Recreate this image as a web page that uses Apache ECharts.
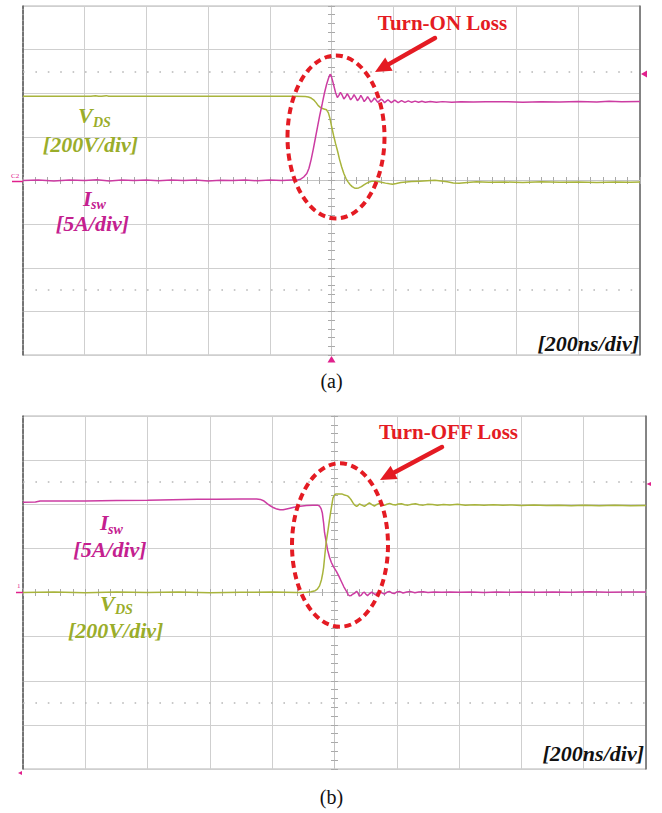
<!DOCTYPE html>
<html>
<head>
<meta charset="utf-8">
<script src="https://cdn.jsdelivr.net/npm/echarts@6/dist/echarts.min.js"></script>
<style>
  html, body { margin: 0; padding: 0; background: #ffffff; }
  #chart { width: 662px; height: 813px; }
</style>
</head>
<body>
<div id="chart"></div>
<script>
// Oscilloscope settings: 10 x 8 divisions
const nsPerDiv = 200;
const voltsPerDiv = 200;
const ampsPerDiv = 5;
const divX = 10;
const divY = 8;

// (a) Turn-on transient: [time ns, value]
const vdsTurnOn = [
  [-1000, 386], [-780, 386], [-765, 389], [-755, 386], [-745, 386], [-730, 389], [-722, 386],
  [-712, 386], [-500, 386], [-300, 386], [-120, 386], [-85, 385], [-75, 383], [-66, 378],
  [-58, 370], [-50, 357], [-43, 343], [-36, 335], [-29, 330], [-22, 327], [-16, 324],
  [-10, 310], [-5, 285], [0, 250], [7, 205], [13, 170], [20, 133], [26, 97], [33, 62],
  [40, 32], [47, 9], [53, -5], [60, -18], [67, -28], [74, -34], [80, -36], [88, -34],
  [97, -28], [105, -20], [113, -13], [122, -7], [130, -4], [140, -3], [150, -4], [162, -8],
  [175, -12], [188, -15], [198, -17], [210, -14], [225, -9], [242, -7], [260, -5], [285, -3],
  [310, -1], [335, 1], [355, -2], [375, -6], [395, -11], [414, -13], [440, -9], [470, -6],
  [510, -8], [560, -7], [620, -9], [680, -6], [740, -8], [800, -7], [860, -9], [920, -7],
  [970, -8], [1000, -7]
];
const iswTurnOn = [
  [-1000, 0], [-950, 0.05], [-900, -0.05], [-850, 0.05], [-800, 0], [-760, 0.08], [-720, -0.05],
  [-680, 0.05], [-640, 0], [-600, 0.06], [-560, -0.04], [-520, 0.05], [-480, 0], [-440, 0.06],
  [-400, -0.05], [-360, 0.04], [-320, 0], [-280, 0.06], [-240, -0.04], [-200, 0.05], [-160, 0],
  [-130, 0.05], [-110, 0.05], [-100, 0.15], [-90, 0.4], [-80, 0.8], [-73, 1.4], [-66, 2.4],
  [-59, 3.6], [-52, 4.9], [-45, 6.2], [-38, 7.5], [-30, 8.8], [-23, 10.0], [-16, 11.0],
  [-10, 11.7], [-5, 12.15], [-2, 12.1], [3, 11.5], [8, 10.8], [13, 10.1], [19, 9.5],
  [24, 9.75], [29, 10.1], [35, 9.75], [40, 9.35], [46, 9.6], [51, 9.95], [57, 9.6], [62, 9.25],
  [68, 9.5], [73, 9.85], [79, 9.5], [84, 9.15], [90, 9.4], [95, 9.75], [101, 9.4], [106, 9.05],
  [112, 9.3], [117, 9.6], [123, 9.3], [128, 8.98], [134, 9.2], [139, 9.45], [145, 9.2],
  [150, 8.95], [156, 9.15], [161, 9.35], [167, 9.15], [172, 8.92], [183, 9.25], [194, 8.92],
  [205, 9.2], [216, 8.93], [227, 9.15], [238, 8.95], [249, 9.12], [260, 8.96], [271, 9.1],
  [282, 8.97], [293, 9.08], [304, 8.98], [320, 9.06], [340, 8.98], [360, 9.04], [390, 8.98],
  [420, 9.03], [460, 8.99], [500, 9.02], [560, 9.04], [620, 8.98], [680, 9.04], [740, 9.0],
  [800, 9.06], [860, 9.0], [900, 9.08], [940, 9.02], [1000, 9.06]
];

// (b) Turn-off transient: [time ns, value]
const iswTurnOff = [
  [-1000, 10.23], [-960, 10.25], [-945, 10.37], [-800, 10.38], [-700, 10.42], [-600, 10.45],
  [-520, 10.5], [-440, 10.56], [-380, 10.58], [-300, 10.6], [-250, 10.6], [-238, 10.55],
  [-228, 10.4], [-215, 10.05], [-205, 9.8], [-195, 9.6], [-185, 9.45], [-175, 9.37],
  [-165, 9.38], [-150, 9.5], [-130, 9.65], [-110, 9.78], [-90, 9.85], [-70, 9.9], [-55, 9.9],
  [-48, 9.8], [-43, 9.5], [-39, 9.0], [-35, 7.9], [-32, 6.8], [-27, 5.8], [-22, 4.8],
  [-16, 4.0], [-10, 3.4], [-3, 2.9], [6, 2.4], [14, 1.85], [22, 1.25], [30, 0.65], [39, 0.1],
  [44, -0.25], [48, -0.37], [53, -0.35], [58, -0.2], [64, -0.1], [71, 0.15], [76, -0.1],
  [80, -0.42], [86, -0.3], [91, -0.05], [96, 0.05], [101, -0.2], [106, -0.35], [112, -0.15],
  [119, 0.05], [125, -0.1], [131, -0.25], [138, -0.05], [145, 0.1], [152, -0.05], [160, -0.18],
  [168, 0.02], [176, 0.12], [184, -0.05], [192, -0.12], [200, 0.06], [210, 0.1], [220, -0.05],
  [232, 0.05], [245, 0.1], [258, -0.02], [270, 0.06], [285, 0.08], [300, 0.0], [320, 0.06],
  [345, 0.02], [370, 0.07], [400, 0.02], [440, 0.06], [480, 0.0], [520, 0.05], [560, 0.02],
  [600, 0.07], [650, 0.02], [700, 0.06], [760, 0.03], [820, 0.08], [880, 0.03], [940, 0.07],
  [1000, 0.05]
];
const vdsTurnOff = [
  [-1000, 0], [-900, 2], [-800, -1], [-700, 2], [-600, 0], [-500, 2], [-400, -1], [-300, 1],
  [-200, 2], [-120, 0], [-90, 1], [-75, 3], [-62, 8], [-55, 15], [-48, 30], [-42, 57],
  [-38, 85], [-35, 113], [-31, 170], [-27, 225], [-21, 280], [-16, 330], [-10, 385], [-5, 428],
  [0, 442], [5, 447], [16, 447], [25, 446], [32, 442], [42, 438], [48, 430], [54, 419],
  [60, 405], [64, 397], [71, 390], [76, 395], [80, 401], [88, 396], [96, 390], [104, 398],
  [112, 406], [120, 398], [128, 392], [136, 399], [144, 404], [152, 399], [160, 395],
  [168, 400], [177, 404], [186, 399], [196, 397], [205, 401], [215, 402], [225, 398],
  [236, 396], [248, 400], [260, 402], [272, 398], [285, 396], [300, 400], [315, 399],
  [330, 396], [350, 399], [370, 397], [395, 400], [420, 396], [450, 398], [480, 395],
  [510, 398], [540, 395], [570, 397], [600, 394], [640, 397], [680, 394], [720, 396],
  [760, 393], [800, 396], [850, 393], [900, 395], [950, 393], [1000, 394]
];

// Graticule dotted rows sit 2.5 divisions above / below centre
const dottedRowDiv = 2.5;

const SERIF = 'Liberation Serif';
const OLIVE_LINE = '#a8b43c';
const OLIVE_TEXT = '#9aad2a';
const MAGENTA_LINE = '#cc3ca2';
const MAGENTA_TEXT = '#c4208f';
const RED = '#e41b23';
const GRID_LINE = '#cfcfcf';

const panels = [
  { left: 23, top: 6, width: 617, height: 349 },
  { left: 23, top: 416, width: 623, height: 353 }
];

const tMax = nsPerDiv * divX / 2;
const vMax = voltsPerDiv * divY / 2;
const iMax = ampsPerDiv * divY / 2;

const xAxes = [];
const yAxes = [];
const hidden = { axisLabel: { show: false }, axisTick: { show: false } };

panels.forEach((p, gi) => {
  const xMain = xAxes.length;
  const yMain = yAxes.length;
  // main time axis: vertical graticule lines
  xAxes.push(Object.assign({
    type: 'value', gridIndex: gi, min: -tMax, max: tMax, interval: nsPerDiv,
    axisLine: { show: false, onZero: false },
    splitLine: { show: true, lineStyle: { color: GRID_LINE, width: 1 } }
  }, hidden));
  // centre cross-hair with minor ticks (both sides)
  ['bottom', 'top'].forEach(pos => {
    xAxes.push({
      type: 'value', gridIndex: gi, position: pos, min: -tMax, max: tMax, interval: nsPerDiv / 5,
      axisLine: { show: true, onZero: true, onZeroAxisIndex: yMain, lineStyle: { color: '#c4c4c4', width: 1 } },
      axisTick: { show: true, length: 3.5, lineStyle: { color: '#a9a9a9', width: 1 } },
      axisLabel: { show: false }, splitLine: { show: false }
    });
  });
  // voltage axis: horizontal graticule lines, dashed left frame
  yAxes.push(Object.assign({
    type: 'value', gridIndex: gi, position: 'left', min: -vMax, max: vMax, interval: voltsPerDiv,
    axisLine: { show: true, onZero: false, lineStyle: { color: '#555', width: 1.5, type: [4, 1.5] } },
    splitLine: { show: true, lineStyle: { color: GRID_LINE, width: 1 } }
  }, hidden));
  // current axis: solid right frame
  yAxes.push(Object.assign({
    type: 'value', gridIndex: gi, position: 'right', min: -iMax, max: iMax, interval: ampsPerDiv,
    axisLine: { show: true, onZero: false, lineStyle: { color: '#6a6a6a', width: 1.5 } },
    splitLine: { show: false }
  }, hidden));
  ['left', 'right'].forEach(pos => {
    yAxes.push({
      type: 'value', gridIndex: gi, position: pos, min: -vMax, max: vMax, interval: voltsPerDiv / 5,
      axisLine: { show: true, onZero: true, onZeroAxisIndex: xMain, lineStyle: { color: '#c4c4c4', width: 1 } },
      axisTick: { show: true, length: 3.5, lineStyle: { color: '#a9a9a9', width: 1 } },
      axisLabel: { show: false }, splitLine: { show: false }
    });
  });
  p.xMain = xMain;
  p.yVolt = yMain;
  p.yAmp = yMain + 1;
});

function trace(data, panel, axisKey, color, withDots) {
  const s = {
    type: 'line', data: data, xAxisIndex: panel.xMain, yAxisIndex: panel[axisKey],
    showSymbol: false, symbol: 'none', smooth: false, silent: true,
    lineStyle: { color: color, width: 1.5 }, z: 5
  };
  if (withDots) {
    s.markLine = {
      silent: true, symbol: 'none', label: { show: false },
      lineStyle: { color: '#b8b8b8', width: 1.6, type: [1.6, 10.8] },
      data: [{ yAxis: dottedRowDiv * voltsPerDiv }, { yAxis: -dottedRowDiv * voltsPerDiv }]
    };
  }
  return s;
}

function txt(text, x, y, size, color, opt) {
  opt = opt || {};
  return {
    type: 'text', x: x, y: y, silent: true, z: 20,
    style: {
      text: text, fill: color,
      fontFamily: SERIF, fontSize: size,
      fontStyle: opt.style || 'normal', fontWeight: opt.weight || 'bold',
      align: opt.align || 'left', textAlign: opt.align || 'left',
      verticalAlign: 'middle', textVerticalAlign: 'middle'
    }
  };
}

function arrow(x1, y1, x2, y2) {
  const dx = x2 - x1, dy = y2 - y1;
  const len = Math.sqrt(dx * dx + dy * dy);
  const ux = dx / len, uy = dy / len;
  const hl = 16, hw = 7.5;
  const bx = x2 - ux * hl, by = y2 - uy * hl;
  return [
    { type: 'line', silent: true, z: 20, shape: { x1: x1, y1: y1, x2: bx + ux * 2, y2: by + uy * 2 },
      style: { stroke: RED, lineWidth: 4.5, lineCap: 'round' } },
    { type: 'polygon', silent: true, z: 20,
      shape: { points: [[x2, y2], [bx + uy * hw, by - ux * hw], [bx - uy * hw, by + ux * hw]] },
      style: { fill: RED } }
  ];
}

function ellipse(cx, cy, rx, ry) {
  return { type: 'ellipse', silent: true, z: 20, shape: { cx: cx, cy: cy, rx: rx, ry: ry },
    style: { fill: 'none', stroke: RED, lineWidth: 4, lineDash: [7, 4.5] } };
}

function tri(points, color) {
  return { type: 'polygon', silent: true, z: 21, shape: { points: points }, style: { fill: color } };
}

const pink = '#e0208c';
const graphics = [
  // (a) channel labels
  txt('V', 78, 115.5, 22, OLIVE_TEXT, { style: 'italic' }),
  txt('DS', 93, 122, 14, OLIVE_TEXT, { style: 'italic' }),
  txt('[200V/div]', 90.5, 144, 22, OLIVE_TEXT, { style: 'italic', align: 'center' }),
  txt('I', 83, 198.5, 22, MAGENTA_TEXT, { style: 'italic' }),
  txt('sw', 91, 204, 14, MAGENTA_TEXT, { style: 'italic' }),
  txt('[5A/div]', 92.5, 223, 22, MAGENTA_TEXT, { style: 'italic', align: 'center' }),
  txt('[200ns/div]', 639, 343, 22, '#111', { style: 'italic', align: 'right' }),
  txt('Turn-ON Loss', 442.5, 23, 21, RED, { align: 'center' }),
  ellipse(336, 137, 48.5, 81.5),
  ...arrow(435, 38, 375, 72),
  txt('(a)', 331.5, 381, 20, '#111', { weight: 'normal', align: 'center' }),
  // (b) channel labels
  txt('I', 100, 522.5, 22, MAGENTA_TEXT, { style: 'italic' }),
  txt('sw', 108, 529, 14, MAGENTA_TEXT, { style: 'italic' }),
  txt('[5A/div]', 110, 549, 22, MAGENTA_TEXT, { style: 'italic', align: 'center' }),
  txt('V', 100, 603.5, 22, OLIVE_TEXT, { style: 'italic' }),
  txt('DS', 115, 609, 14, OLIVE_TEXT, { style: 'italic' }),
  txt('[200V/div]', 115.7, 630, 22, OLIVE_TEXT, { style: 'italic', align: 'center' }),
  txt('[200ns/div]', 644, 753, 22, '#111', { style: 'italic', align: 'right' }),
  txt('Turn-OFF Loss', 448.5, 432, 21, RED, { align: 'center' }),
  ellipse(340, 545, 48, 81.7),
  ...arrow(442, 447, 380, 480),
  txt('(b)', 331.5, 797, 20, '#111', { weight: 'normal', align: 'center' }),
  // scope markers
  tri([[331.5, 356], [327.5, 362.5], [335.5, 362.5]], pink),
  tri([[641, 74], [647, 70.5], [647, 77.5]], pink),
  { type: 'line', silent: true, z: 21, shape: { x1: 12, y1: 181.5, x2: 23, y2: 181.5 }, style: { stroke: pink, lineWidth: 1.5 } },
  txt('C2', 11, 176, 7, pink, { weight: 'normal' }),
  tri([[646.5, 484], [651, 482], [651, 486]], pink),
  { type: 'line', silent: true, z: 21, shape: { x1: 16, y1: 592.5, x2: 23, y2: 592.5 }, style: { stroke: pink, lineWidth: 1.5 } },
  txt('1', 17, 586, 7, pink, { weight: 'normal' }),
  tri([[18, 773], [22, 771], [22, 775]], pink)
];

const chart = echarts.init(document.getElementById('chart'), null, { renderer: 'svg' });
chart.setOption({
  animation: false,
  backgroundColor: '#ffffff',
  grid: panels.map(p => ({
    left: p.left, top: p.top, width: p.width, height: p.height,
    show: true, borderColor: '#b5b5b5', borderWidth: 1, backgroundColor: 'transparent'
  })),
  xAxis: xAxes,
  yAxis: yAxes,
  series: [
    trace(vdsTurnOn, panels[0], 'yVolt', OLIVE_LINE, true),
    trace(iswTurnOn, panels[0], 'yAmp', MAGENTA_LINE, false),
    trace(iswTurnOff, panels[1], 'yAmp', MAGENTA_LINE, false),
    trace(vdsTurnOff, panels[1], 'yVolt', OLIVE_LINE, true)
  ],
  graphic: { elements: graphics }
});
</script>
</body>
</html>
